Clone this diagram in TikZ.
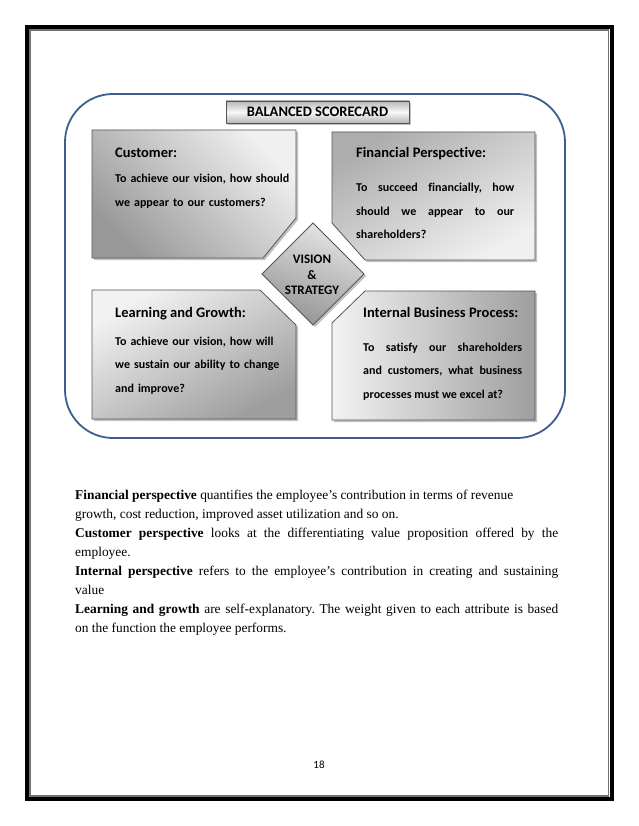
\documentclass[tikz,border=0pt]{standalone}
\usepackage{fontspec}
\setmainfont{Liberation Serif}
\newfontfamily\carlitofont[Ligatures=NoCommon]{Carlito}
\usetikzlibrary{shadows}
\definecolor{frameblue}{HTML}{3A5F8F}
\definecolor{boxline}{HTML}{555555}
\tikzset{
  qbox/.style={draw=boxline, line width=0.8pt,
    drop shadow={shadow xshift=2pt, shadow yshift=-2pt, opacity=0.4, fill=black!60}},
  head/.style={font=\carlitofont\bfseries\fontsize{14.5}{16}\selectfont, anchor=base west, inner sep=0pt},
  body/.style={font=\carlitofont\bfseries\fontsize{12}{23.5}\selectfont, anchor=base west, inner sep=0pt, align=left},
  jbody/.style={body, align=justify},
}
\frenchspacing
\begin{document}
\begin{tikzpicture}[x=1pt,y=-1pt]
\useasboundingbox (0,0) rectangle (638,826);
\fill[white] (0,0) rectangle (638,826);
% page border
\draw[line width=4pt, black] (27,27) rectangle (611.5,799);
\draw[line width=1.5pt, black!55] (30,30) rectangle (608.5,796);
% blue frame
\draw[frameblue, line width=1.8pt, rounded corners=48pt] (65,94) rectangle (565,438);
% title
\node[qbox, top color=black!28, bottom color=black!28, middle color=black!3,
  minimum width=183pt, minimum height=22pt, inner sep=0pt,
  font=\carlitofont\bfseries\fontsize{14.5}{16}\selectfont] (title) at (317.5,112) {BALANCED SCORECARD};
% customer
\path[qbox, top color=black!6, bottom color=black!40, shading angle=-45]
  (92,130) -- (296,130) -- (296,218) -- (263,258) -- (92,258) -- cycle;
% financial
\path[qbox, top color=black!32, bottom color=black!6, shading angle=30]
  (332,132) -- (535,132) -- (535,260) -- (365,260) -- (332,223) -- cycle;
% learning
\path[qbox, top color=black!5, bottom color=black!38, shading angle=30]
  (92,290) -- (260,290) -- (296,325) -- (296,419) -- (92,419) -- cycle;
% internal
\path[qbox, left color=black!5, right color=black!38]
  (365,291) -- (535,291) -- (535,420) -- (332,420) -- (332,323) -- cycle;
% diamond
\path[qbox, top color=black!10, bottom color=black!42, shading angle=-20]
  (313,223) -- (364,274) -- (313,325) -- (262,274) -- cycle;
\node[font=\carlitofont\bfseries\fontsize{13}{15.5}\selectfont, align=center, inner sep=0pt] (vision) at (312,275) {VISION\\\&\\STRATEGY};
% texts
\node[head] (custh) at (115,158) {Customer:};
\node[body, text width=190pt] (custb) at (115,183) {To achieve our vision, how should\\we appear to our customers?};
\node[head] (finh) at (356,158) {Financial Perspective:};
\node[jbody, text width=158pt] (finb) at (356,192) {To succeed financially, how\linebreak should we appear to our\linebreak shareholders?};
\node[head] (learnh) at (115,317) {Learning and Growth:};
\node[body, text width=190pt] (learnb) at (115,345) {To achieve our vision, how will\\we sustain our ability to change\\and improve?};
\node[head] (inth) at (363,317) {Internal Business Process:};
\node[jbody, text width=159pt] (intb) at (363,351) {To satisfy our shareholders\linebreak and customers, what business\linebreak processes must we excel at?};
% paragraph
\node[anchor=base west, inner sep=0pt, text width=483pt, align=justify,
  font=\fontsize{13.4}{19}\selectfont] (para) at (75,499) {%
\textbf{Financial perspective} quantifies the employee's contribution in terms of revenue\\
growth, cost reduction, improved asset utilization and so on.\par
\textbf{Customer perspective} looks at the differentiating value proposition offered by the\linebreak employee.\par
\textbf{Internal perspective} refers to the employee's contribution in creating and sustaining\linebreak value\par
\textbf{Learning and growth} are self-explanatory. The weight given to each attribute is based\linebreak on the function the employee performs.};
\node[font=\carlitofont\fontsize{11}{12}\selectfont, inner sep=0pt, anchor=base] (pnum) at (319,768) {18};
\end{tikzpicture}
\end{document}
